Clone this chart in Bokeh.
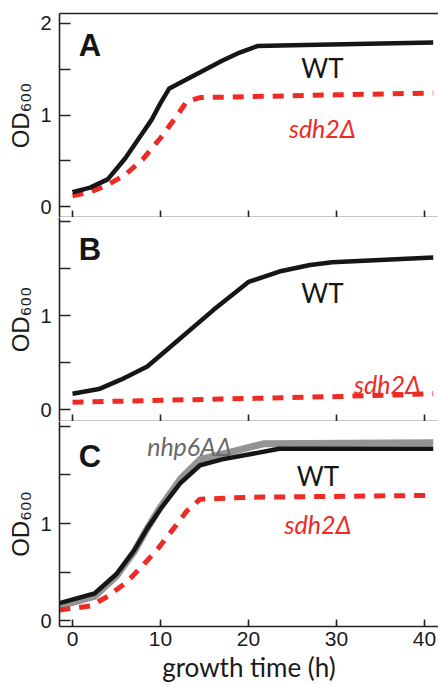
from bokeh.plotting import figure
from bokeh.models import Range1d, LinearAxis, FixedTicker, Label, CustomLabelingPolicy
from bokeh.layouts import column
from bokeh.embed import file_html
from bokeh.resources import INLINE

# ---------------- data ----------------
# Panel A
a_wt_t = [0, 2, 4, 6, 8, 9, 10, 11, 13, 15, 17, 19, 21, 25, 41]
a_wt = [0.16, 0.21, 0.30, 0.53, 0.81, 0.95, 1.13, 1.29, 1.39, 1.49, 1.59, 1.68, 1.75, 1.76, 1.79]
a_sdh_t = [0, 2, 4, 6, 8, 10, 12, 13, 14.5, 20, 30, 41]
a_sdh = [0.12, 0.16, 0.24, 0.35, 0.52, 0.75, 1.01, 1.15, 1.19, 1.20, 1.22, 1.24]
# Panel B
b_wt_t = [0, 3, 5.5, 8.5, 12, 16, 20, 23.5, 27, 29.5, 41]
b_wt = [0.17, 0.22, 0.32, 0.46, 0.74, 1.06, 1.36, 1.47, 1.54, 1.57, 1.62]
b_sdh_t = [0, 10, 20, 30, 41]
b_sdh = [0.08, 0.10, 0.12, 0.14, 0.17]
# Panel C
c_wt_t = [-1.5, 2.5, 5, 7, 8.5, 10, 12.3, 14.5, 17, 20, 23.5, 41]
c_wt = [0.18, 0.28, 0.48, 0.72, 0.95, 1.15, 1.42, 1.60, 1.66, 1.71, 1.77, 1.77]
c_nhp_t = [-1.5, 2.5, 5, 7, 8.5, 10, 12.3, 14.5, 16.8, 21.7, 41]
c_nhp = [0.15, 0.25, 0.46, 0.71, 0.95, 1.17, 1.46, 1.66, 1.71, 1.82, 1.83]
c_sdh_t = [-1.5, 2, 4, 6.2, 8, 9.7, 11.5, 13, 14.5, 20, 41]
c_sdh = [0.11, 0.15, 0.25, 0.40, 0.57, 0.74, 0.95, 1.13, 1.25, 1.27, 1.29]

x_ticks = [0, 10, 20, 30, 40]
y_ticks = [0, 1, 2]
y_minor = [0.5, 1.5]
x_label = "growth time (h)"
y_label = "OD\u2086\u2080\u2080"

BLACK = "#161616"
RED = "#EE2A24"
GRAY_LINE = "#949494"
GRAY_TEXT = "#6a6a6a"
AXC = "#222222"

XR = Range1d(-1.48, 41.6)


def make_panel(yr, frame_h, top, last=False, hide2=False):
    p = figure(frame_width=379, frame_height=frame_h, x_range=XR, y_range=yr,
               output_backend="svg", toolbar_location=None,
               min_border_left=59, min_border_right=0, min_border_top=top,
               min_border_bottom=0)
    p.grid.visible = False
    p.outline_line_color = None
    p.background_fill_color = "white"
    p.border_fill_color = "white"
    xa = p.xaxis[0]
    xa.ticker = FixedTicker(ticks=x_ticks)
    xa.major_tick_in = 7
    xa.major_tick_out = 0
    xa.axis_line_width = 1.6
    xa.axis_line_color = AXC
    xa.major_tick_line_color = AXC
    xa.major_tick_line_width = 1.6
    if last:
        xa.major_label_text_font = "Liberation Sans"
        xa.major_label_text_font_size = "21px"
        xa.major_label_text_color = "#1a1a1a"
        xa.major_label_standoff = 5
        xa.axis_label = x_label
        xa.axis_label_text_font = "Lato"
        xa.axis_label_text_font_size = "26px"
        xa.axis_label_text_font_style = "normal"
        xa.axis_label_text_color = "#1a1a1a"
        xa.axis_label_standoff = 2
    else:
        # inner panels: tick marks only, no tick labels
        xa.major_label_policy = CustomLabelingPolicy(code="return []")
        xa.major_label_text_font_size = "0px"
        xa.major_label_standoff = 0
    ya = p.yaxis[0]
    ya.ticker = FixedTicker(ticks=y_ticks, minor_ticks=y_minor)
    ya.major_tick_in = 11
    ya.major_tick_out = 0
    ya.minor_tick_in = 11
    ya.minor_tick_out = 0
    ya.axis_line_width = 1.6
    ya.axis_line_color = AXC
    ya.major_tick_line_color = AXC
    ya.minor_tick_line_color = AXC
    ya.major_tick_line_width = 1.6
    ya.minor_tick_line_width = 1.6
    ya.major_label_text_font = "Liberation Sans"
    ya.major_label_text_font_size = "20px"
    ya.major_label_text_color = "#1a1a1a"
    ya.major_label_standoff = 8
    ya.axis_label = y_label
    ya.axis_label_text_font = "Liberation Sans"
    ya.axis_label_text_font_size = "24px"
    ya.axis_label_text_font_style = "normal"
    ya.axis_label_text_color = "#1a1a1a"
    ya.axis_label_standoff = 3
    if hide2:
        ya.major_label_overrides = {2: ""}
    return p


def txt(p, x, y, s, color=BLACK, size="26px", style="normal", font="Lato", align="center"):
    p.add_layout(Label(x=x, y=y, text=s, text_align=align, text_baseline="alphabetic",
                       text_font=font, text_font_size=size, text_font_style=style,
                       text_color=color))


# ---------- Panel A ----------
pA = make_panel(Range1d(-0.115, 2.105), 204, 13)
pA.add_layout(LinearAxis(ticker=FixedTicker(ticks=[]), major_label_text_font_size="0px",
                         major_tick_in=0, major_tick_out=0, major_label_standoff=0,
                         axis_line_width=1.6, axis_line_color=AXC), "above")
pA.line(a_sdh_t, a_sdh, line_color=RED, line_width=5, line_dash="11 9")
pA.line(a_wt_t, a_wt, line_color=BLACK, line_width=4.5, line_join="round")
txt(pA, 0.7, 1.76, "A", size="31px", style="bold", font="Liberation Sans", align="left")
txt(pA, 28.4, 1.51, "WT")
txt(pA, 28.4, 0.86, "sdh2\u0394", color=RED, style="italic", size="25px")

# ---------- Panel B ----------
pB = make_panel(Range1d(-0.125, 2.045), 204, 0, hide2=True)
pB.line(b_sdh_t, b_sdh, line_color=RED, line_width=5, line_dash="11 9")
pB.line(b_wt_t, b_wt, line_color=BLACK, line_width=4.5, line_join="round")
txt(pB, 0.7, 1.70, "B", size="31px", style="bold", font="Liberation Sans", align="left")
txt(pB, 28.4, 1.245, "WT")
txt(pB, 35.8, 0.27, "sdh2\u0394", color=RED, style="italic", size="25px")

# ---------- Panel C ----------
pC = make_panel(Range1d(-0.06, 2.05), 205, 0, last=True, hide2=True)
pC.line(c_nhp_t, c_nhp, line_color=GRAY_LINE, line_width=7, line_join="round")
pC.line(c_sdh_t, c_sdh, line_color=RED, line_width=5, line_dash="11 9")
pC.line(c_wt_t, c_wt, line_color=BLACK, line_width=4.5, line_join="round")
txt(pC, 0.7, 1.69, "C", size="31px", style="bold", font="Liberation Sans", align="left")
txt(pC, 13.3, 1.80, "nhp6A\u0394", color=GRAY_TEXT, style="italic", size="25px")
txt(pC, 27.9, 1.49, "WT")
txt(pC, 27.9, 1.0, "sdh2\u0394", color=RED, style="italic", size="25px")

layout = column(pA, pB, pC, spacing=0)
open("out.html", "w").write(file_html(layout, INLINE))
